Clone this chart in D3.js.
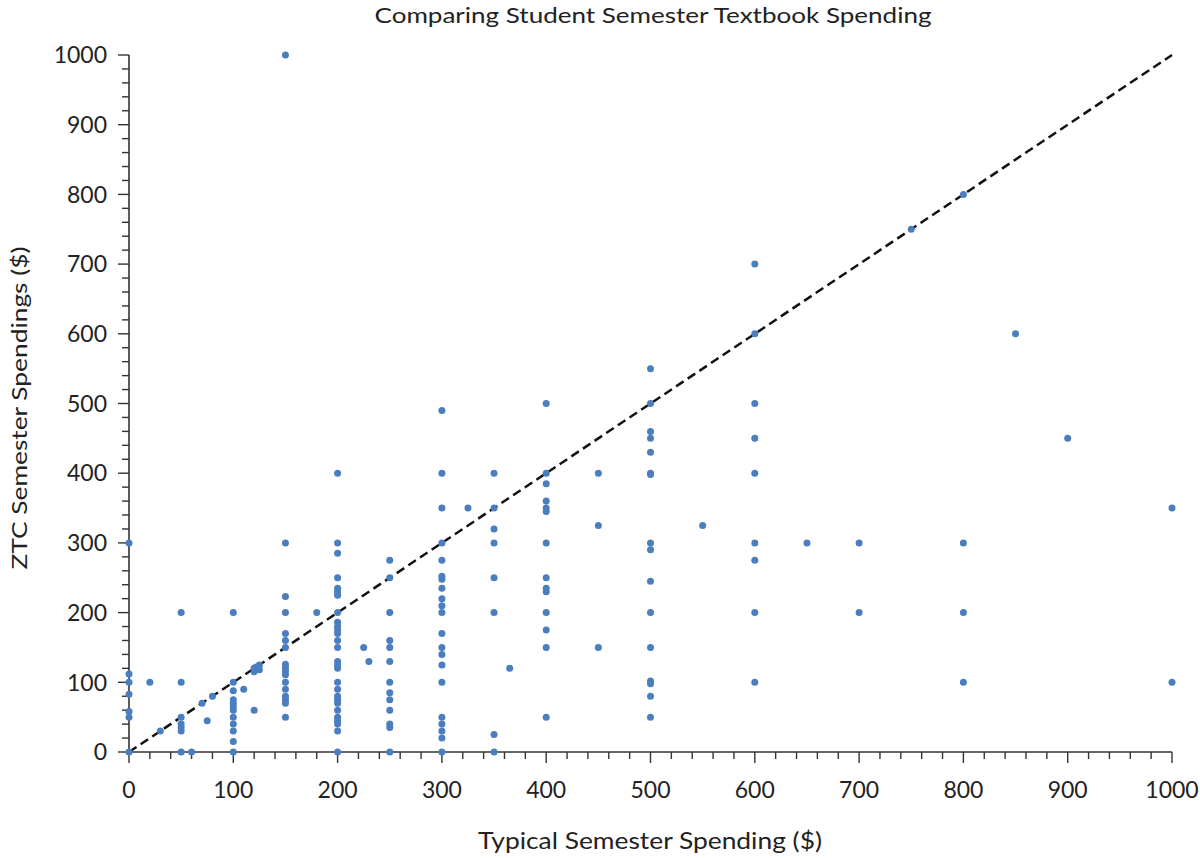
<!DOCTYPE html>
<html>
<head>
<meta charset="utf-8">
<script src="https://cdn.jsdelivr.net/npm/d3@7"></script>
<style>
  body { margin: 0; background: #fff; }
  text { font-family: Lato, "Open Sans", sans-serif; fill: #222; }
</style>
</head>
<body>
<svg id="chart" width="1200" height="858"></svg>
<script>
// Typical semester spending (x, $) — one line per column group
const typicalSpending = [
  0,0,0,0,0,0,0,
  20,30,
  50,50,50,50,50,50,50,
  60,70,75,80,
  100,100,100,100,100,100,100,100,100,100,100,100,
  110,120,120,120,125,125,122,
  150,150,150,150,150,150,150,150,150,150,150,150,150,150,150,150,150,
  180,
  200,200,200,200,200,200,200,200,200,200,200,200,200,200,200,200,200,200,200,200,200,200,200,200,200,200,200,200,
  225,230,
  250,250,250,250,250,250,250,250,250,250,250,250,250,
  300,300,300,300,300,300,300,300,300,300,300,300,300,300,300,300,300,300,300,300,300,
  325,
  350,350,350,350,350,350,350,350,
  365,
  400,400,400,400,400,400,400,400,400,400,400,400,400,400,
  450,450,450,
  500,500,500,500,500,500,500,500,500,500,500,500,500,500,500,500,
  550,
  600,600,600,600,600,600,600,600,600,
  650,700,700,750,800,800,800,800,850,900,1000,1000
];
// ZTC semester spending (y, $) — same order as above
const ztcSpending = [
  300,112,100,83,58,50,0,
  100,30,
  200,100,50,40,35,30,0,
  0,70,45,80,
  200,100,88,75,70,65,60,50,40,30,15,0,
  90,60,115,120,125,118,122,
  1000,300,223,200,170,160,150,126,121,116,111,100,90,80,75,70,50,
  200,
  400,300,285,250,235,230,225,200,186,180,175,170,160,150,130,125,120,100,90,80,75,70,60,50,45,40,30,0,
  150,130,
  275,250,200,160,150,130,100,85,75,60,40,35,0,
  490,400,350,300,275,252,248,235,220,210,200,170,150,140,125,100,50,40,30,20,0,
  350,
  400,350,320,300,250,200,25,0,
  120,
  500,400,385,360,350,345,300,250,235,230,200,175,150,50,
  400,325,150,
  550,500,460,450,430,400,398,300,290,245,200,150,102,98,80,50,
  325,
  700,600,500,450,400,300,275,200,100,
  300,300,200,750,800,300,200,100,600,450,350,100
];
const xTickValues = [0,100,200,300,400,500,600,700,800,900,1000];
const yTickValues = [0,100,200,300,400,500,600,700,800,900,1000];
const referenceLine = [[0,0],[1000,1000]];
const chartTitle = "Comparing Student Semester Textbook Spending";
const xTitle = "Typical Semester Spending ($)";
const yTitle = "ZTC Semester Spendings ($)";

const n = Math.min(typicalSpending.length, ztcSpending.length);
const points = d3.range(n).map(i => ({ x: typicalSpending[i], y: ztcSpending[i] }));

const svg = d3.select("#chart");
const x = d3.scaleLinear().domain([0, 1000]).range([129, 1172]);
const y = d3.scaleLinear().domain([0, 1000]).range([752, 55]);

const minor = d3.range(0, 1001, 20);

// X axis
const xg = svg.append("g").attr("transform", "translate(0,752)");
xg.append("line").attr("x1", x(0)).attr("x2", x(1000)).attr("stroke", "#333").attr("stroke-width", 1.6);
xg.selectAll("line.minor").data(minor).enter().append("line")
  .attr("class", "minor")
  .attr("x1", d => x(d)).attr("x2", d => x(d))
  .attr("y1", 0).attr("y2", d => d % 100 === 0 ? 11 : 7)
  .attr("stroke", "#333").attr("stroke-width", 1.4);
xg.selectAll("text").data(xTickValues).enter().append("text")
  .attr("x", d => x(d)).attr("y", 46)
  .attr("text-anchor", "middle").attr("font-size", 23)
  .text(d => d);

// Y axis
const yg = svg.append("g").attr("transform", "translate(129,0)");
yg.append("line").attr("y1", y(0)).attr("y2", y(1000)).attr("stroke", "#333").attr("stroke-width", 1.6);
yg.selectAll("line.minor").data(minor).enter().append("line")
  .attr("class", "minor")
  .attr("y1", d => y(d)).attr("y2", d => y(d))
  .attr("x1", 0).attr("x2", d => d % 100 === 0 ? -11 : -7)
  .attr("stroke", "#333").attr("stroke-width", 1.4);
yg.selectAll("text").data(yTickValues).enter().append("text")
  .attr("x", -22).attr("y", d => y(d)).attr("dy", "0.36em")
  .attr("text-anchor", "end").attr("font-size", 23)
  .text(d => d);

// Reference line
svg.append("path")
  .datum(referenceLine)
  .attr("d", d3.line().x(d => x(d[0])).y(d => y(d[1])))
  .attr("stroke", "#111").attr("stroke-width", 2.5)
  .attr("stroke-dasharray", "9,5").attr("fill", "none");

// Points
svg.append("g").selectAll("circle").data(points).enter().append("circle")
  .attr("cx", d => x(d.x)).attr("cy", d => y(d.y))
  .attr("r", 3.5).attr("fill", "#4a7ebf");

// Titles
svg.append("text").attr("x", 653).attr("y", 23).attr("text-anchor", "middle")
  .attr("font-size", 22).attr("textLength", 557).attr("lengthAdjust", "spacingAndGlyphs")
  .text(chartTitle);
svg.append("text").attr("x", 650).attr("y", 849).attr("text-anchor", "middle")
  .attr("font-size", 24).attr("textLength", 344).attr("lengthAdjust", "spacingAndGlyphs")
  .text(xTitle);
svg.append("text").attr("transform", "translate(27,408) rotate(-90)")
  .attr("text-anchor", "middle").attr("font-size", 22)
  .attr("textLength", 323).attr("lengthAdjust", "spacingAndGlyphs")
  .text(yTitle);
</script>
</body>
</html>
